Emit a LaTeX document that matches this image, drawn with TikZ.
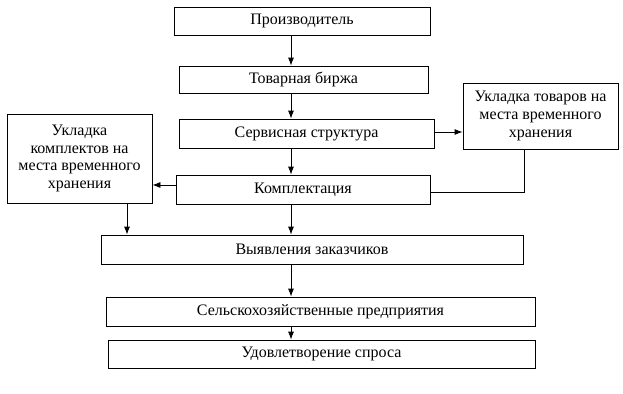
\documentclass[tikz,border=0pt]{standalone}
\usepackage{fontspec}
\setmainfont{Liberation Serif}
\usetikzlibrary{arrows.meta}

\begin{document}
\begin{tikzpicture}[x=0.75pt,y=-0.75pt,
  blk/.style n args={2}{draw,line width=0.6pt,rectangle,inner sep=0pt,align=center,
    font=\fontsize{12}{13.4}\selectfont,minimum width=#1*0.75pt,minimum height=#2*0.75pt},
  arr/.style={line width=0.6pt,-{Latex[length=6pt,width=4.5pt]}},
  lnk/.style={line width=0.6pt}]
\useasboundingbox (0,0) rectangle (623,393);
% main chain
\node[blk={256}{28}](prod) at(302,21) {Производитель};
\node[blk={249}{27}](birzha) at(303.5,79.5) {Товарная биржа};
\node[blk={255}{29}](serv) at(306.5,133.5) {Сервисная структура};
\node[blk={254}{29}](kompl) at(303,189.5) {Комплектация};
\node[blk={422}{29}](vyyav) at(312,249.5) {Выявления заказчиков};
\node[blk={429}{29}](selkh) at(320.5,311.5) {Сельскохозяйственные предприятия};
\node[blk={427}{28}](udovl) at(321.5,354) {Удовлетворение спроса};
% side boxes
\node[blk={145}{89}](uklk) at(79.5,158.5) {Укладка\\комплектов на\\места временного\\хранения};
\node[blk={155}{66}](uklt) at(540.5,116) {Укладка товаров на\\места временного\\хранения};
% helper points
\coordinate (m) at (291,0);
\coordinate (l) at (127,185);
\coordinate (r) at (524,192);
\coordinate (s) at (0,132);
\draw[arr] (prod.south-|m) -- (birzha.north-|m);
\draw[arr] (birzha.south-|m) -- (serv.north-|m);
\draw[arr] (serv.south-|m) -- (kompl.north-|m);
\draw[arr] (kompl.south-|m) -- (vyyav.north-|m);
\draw[arr] (vyyav.south-|m) -- (selkh.north-|m);
\draw[arr] (selkh.south-|m) -- (udovl.north-|m);
\draw[arr] (serv.east|-s) -- (uklt.west|-s);
\draw[lnk] (uklt.south-|r) |- (kompl.east|-r);
\draw[arr] (kompl.west|-l) -- (uklk.east|-l);
\draw[arr] (uklk.south-|l) -- (vyyav.north-|l);
\end{tikzpicture}
\end{document}
